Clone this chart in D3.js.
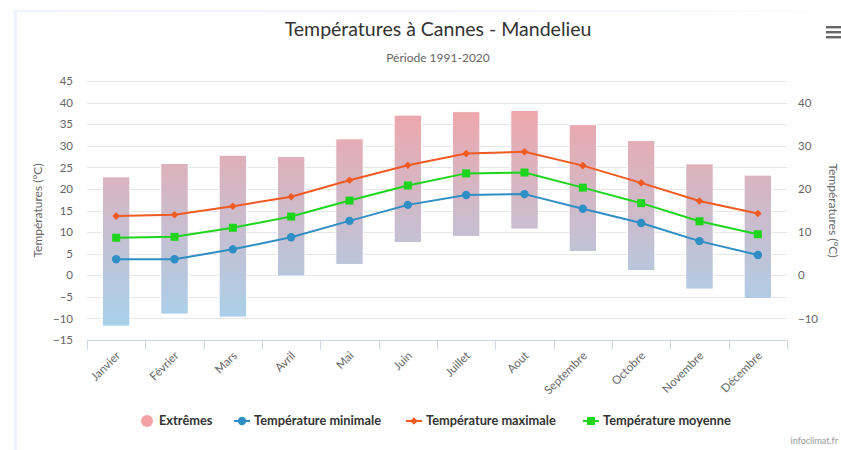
<!DOCTYPE html>
<html>
<head>
<meta charset="utf-8">
<script src="https://cdn.jsdelivr.net/npm/d3@7"></script>
<style>
  html, body { margin: 0; padding: 0; background: #fff; }
  svg { display: block; font-family: Lato, "Open Sans", sans-serif; }
</style>
</head>
<body>
<svg id="chart" width="841" height="450"></svg>
<script>
// Monthly climate normals, Cannes - Mandelieu, 1991-2020
const months = ["Janvier", "Février", "Mars", "Avril", "Mai", "Juin", "Juillet", "Aout", "Septembre", "Octobre", "Novembre", "Décembre"];
const extremeHigh = [22.8, 25.9, 27.8, 27.5, 31.6, 37.1, 37.9, 38.2, 34.9, 31.2, 25.8, 23.2];
const extremeLow = [-11.8, -9.0, -9.7, -0.2, 2.5, 7.6, 9.0, 10.7, 5.5, 1.1, -3.2, -5.4];
const tempMax = [13.7, 14.0, 16.0, 18.2, 22.0, 25.5, 28.2, 28.6, 25.4, 21.4, 17.2, 14.3];
const tempMoy = [8.7, 8.9, 11.0, 13.6, 17.3, 20.8, 23.6, 23.8, 20.3, 16.7, 12.5, 9.5];
const tempMin = [3.7, 3.7, 6.0, 8.8, 12.6, 16.3, 18.6, 18.8, 15.4, 12.1, 7.9, 4.7];
const leftTicks = [-15, -10, -5, 0, 5, 10, 15, 20, 25, 30, 35, 40, 45];
const rightTicks = [-10, 0, 10, 20, 30, 40];

const svg = d3.select("#chart");
const plot = { left: 87, right: 787, top: 81, bottom: 340 };

const x = d3.scaleBand().domain(months).range([plot.left, plot.right]);
const y = d3.scaleLinear().domain([-15, 45]).range([plot.bottom, plot.top]);
const cx = m => x(m) + x.bandwidth() / 2;

const defs = svg.append("defs");
const grad = defs.append("linearGradient")
  .attr("id", "extremesFill")
  .attr("gradientUnits", "userSpaceOnUse")
  .attr("x1", 0).attr("x2", 0)
  .attr("y1", y(45)).attr("y2", y(-15));
grad.append("stop").attr("offset", 0).attr("stop-color", "#f7a1a3");
grad.append("stop").attr("offset", 1).attr("stop-color", "#a4d4f1");

const frameGrad = defs.append("linearGradient").attr("id", "frameFade");
frameGrad.append("stop").attr("offset", 0).attr("stop-color", "#eef2fe");
frameGrad.append("stop").attr("offset", 0.75).attr("stop-color", "#f3f6fe");
frameGrad.append("stop").attr("offset", 1).attr("stop-color", "#ffffff");

// container frame
svg.append("rect").attr("x", 14).attr("y", 10).attr("width", 3).attr("height", 440).attr("fill", "#eef2fe");
svg.append("rect").attr("x", 14).attr("y", 10).attr("width", 827).attr("height", 2).attr("fill", "url(#frameFade)");

// titles
svg.append("text").attr("x", 438).attr("y", 36).attr("text-anchor", "middle")
  .attr("font-size", 19.5).attr("fill", "#333").text("Températures à Cannes - Mandelieu");
svg.append("text").attr("x", 438).attr("y", 62).attr("text-anchor", "middle")
  .attr("font-size", 12).attr("fill", "#666").text("Période 1991-2020");

// export menu icon
[27, 32, 37].forEach(yy => {
  svg.append("rect").attr("x", 826).attr("y", yy - 1).attr("width", 16).attr("height", 2.4)
    .attr("fill", "#666");
});

// horizontal grid
svg.append("g").selectAll("line").data(leftTicks).join("line")
  .attr("x1", plot.left).attr("x2", plot.right)
  .attr("y1", d => Math.round(y(d)) + 0.5).attr("y2", d => Math.round(y(d)) + 0.5)
  .attr("stroke", "#e6e6e6").attr("stroke-width", 1);

// left axis
const leftAxis = svg.append("g").attr("transform", `translate(${plot.left},0)`)
  .call(d3.axisLeft(y).tickValues(leftTicks).tickSize(0).tickPadding(14));
leftAxis.select(".domain").remove();
leftAxis.selectAll("text").attr("font-size", 11.5).attr("fill", "#666").attr("font-family", "Lato, 'Open Sans', sans-serif");

// right axis
const rightAxis = svg.append("g").attr("transform", `translate(${plot.right},0)`)
  .call(d3.axisRight(y).tickValues(rightTicks).tickSize(0).tickPadding(11));
rightAxis.select(".domain").remove();
rightAxis.selectAll("text").attr("font-size", 11.5).attr("fill", "#666").attr("font-family", "Lato, 'Open Sans', sans-serif");

// axis titles
svg.append("text").attr("transform", `translate(42,${(plot.top + plot.bottom) / 2}) rotate(-90)`)
  .attr("text-anchor", "middle").attr("font-size", 12).attr("fill", "#666").text("Températures (°C)");
svg.append("text").attr("transform", `translate(829,${(plot.top + plot.bottom) / 2}) rotate(90)`)
  .attr("text-anchor", "middle").attr("font-size", 12).attr("fill", "#666").text("Températures (°C)");

// x axis
const xAxis = svg.append("g").attr("transform", `translate(0,${plot.bottom + 0.5})`);
xAxis.append("line").attr("x1", plot.left).attr("x2", plot.right).attr("stroke", "#ccd6eb");
const bounds = months.map(m => x(m)).concat([plot.right]);
xAxis.selectAll("line.tick").data(bounds).join("line").attr("class", "tick")
  .attr("x1", d => Math.round(d) + 0.5).attr("x2", d => Math.round(d) + 0.5)
  .attr("y1", 0).attr("y2", 9).attr("stroke", "#ccd6eb");
xAxis.selectAll("text").data(months).join("text")
  .attr("transform", m => `translate(${cx(m) + 2},13) rotate(-45)`)
  .attr("text-anchor", "end").attr("dy", "0.35em")
  .attr("font-size", 11.5).attr("fill", "#666").text(m => m);

// extremes range bars
const barW = x.step() * 0.47;
svg.append("g").selectAll("rect").data(months).join("rect")
  .attr("x", (m) => cx(m) - barW / 2)
  .attr("width", barW)
  .attr("y", (m, i) => y(extremeHigh[i]))
  .attr("height", (m, i) => y(extremeLow[i]) - y(extremeHigh[i]))
  .attr("fill", "url(#extremesFill)")
  .attr("stroke", "#fff").attr("stroke-width", 1);

// series lines and markers
const series = [
  { name: "Température minimale", values: tempMin, color: "#2f8ec4", marker: "circle" },
  { name: "Température maximale", values: tempMax, color: "#f15a22", marker: "diamond" },
  { name: "Température moyenne", values: tempMoy, color: "#1ed51e", marker: "square" }
];

function drawMarker(g, type, px, py, color) {
  if (type === "circle") {
    g.append("circle").attr("cx", px).attr("cy", py).attr("r", 4.2).attr("fill", color);
  } else if (type === "square") {
    g.append("rect").attr("x", px - 4).attr("y", py - 4).attr("width", 8).attr("height", 8).attr("fill", color);
  } else {
    const r = 3.8;
    g.append("path").attr("d", `M${px},${py - r}L${px + r},${py}L${px},${py + r}L${px - r},${py}Z`).attr("fill", color);
  }
}

const line = d3.line().x(d => cx(d.m)).y(d => y(d.v));
series.forEach(s => {
  const pts = months.map((m, i) => ({ m, v: s.values[i] }));
  const g = svg.append("g");
  g.append("path").datum(pts).attr("d", line)
    .attr("fill", "none").attr("stroke", s.color).attr("stroke-width", 2).attr("stroke-linejoin", "round");
  pts.forEach(p => drawMarker(g, s.marker, cx(p.m), y(p.v), s.color));
});

// legend
const legY = 421;
const leg = svg.append("g").attr("font-size", 12.8).attr("font-weight", "bold").attr("fill", "#333");
leg.append("circle").attr("cx", 147).attr("cy", legY).attr("r", 6).attr("fill", "#f6a1a4");
leg.append("text").attr("x", 159).attr("y", legY).attr("dy", "0.35em").text("Extrêmes");
const legendX = [234, 406, 583];
series.forEach((s, i) => {
  const lx = legendX[i];
  leg.append("line").attr("x1", lx).attr("x2", lx + 16).attr("y1", legY).attr("y2", legY)
    .attr("stroke", s.color).attr("stroke-width", 2);
  drawMarker(leg, s.marker, lx + 8, legY, s.color);
  leg.append("text").attr("x", lx + 20).attr("y", legY).attr("dy", "0.35em").text(s.name);
});

// credits
svg.append("text").attr("x", 838).attr("y", 444).attr("text-anchor", "end")
  .attr("font-size", 9).attr("fill", "#999").text("infoclimat.fr");
</script>
</body>
</html>
